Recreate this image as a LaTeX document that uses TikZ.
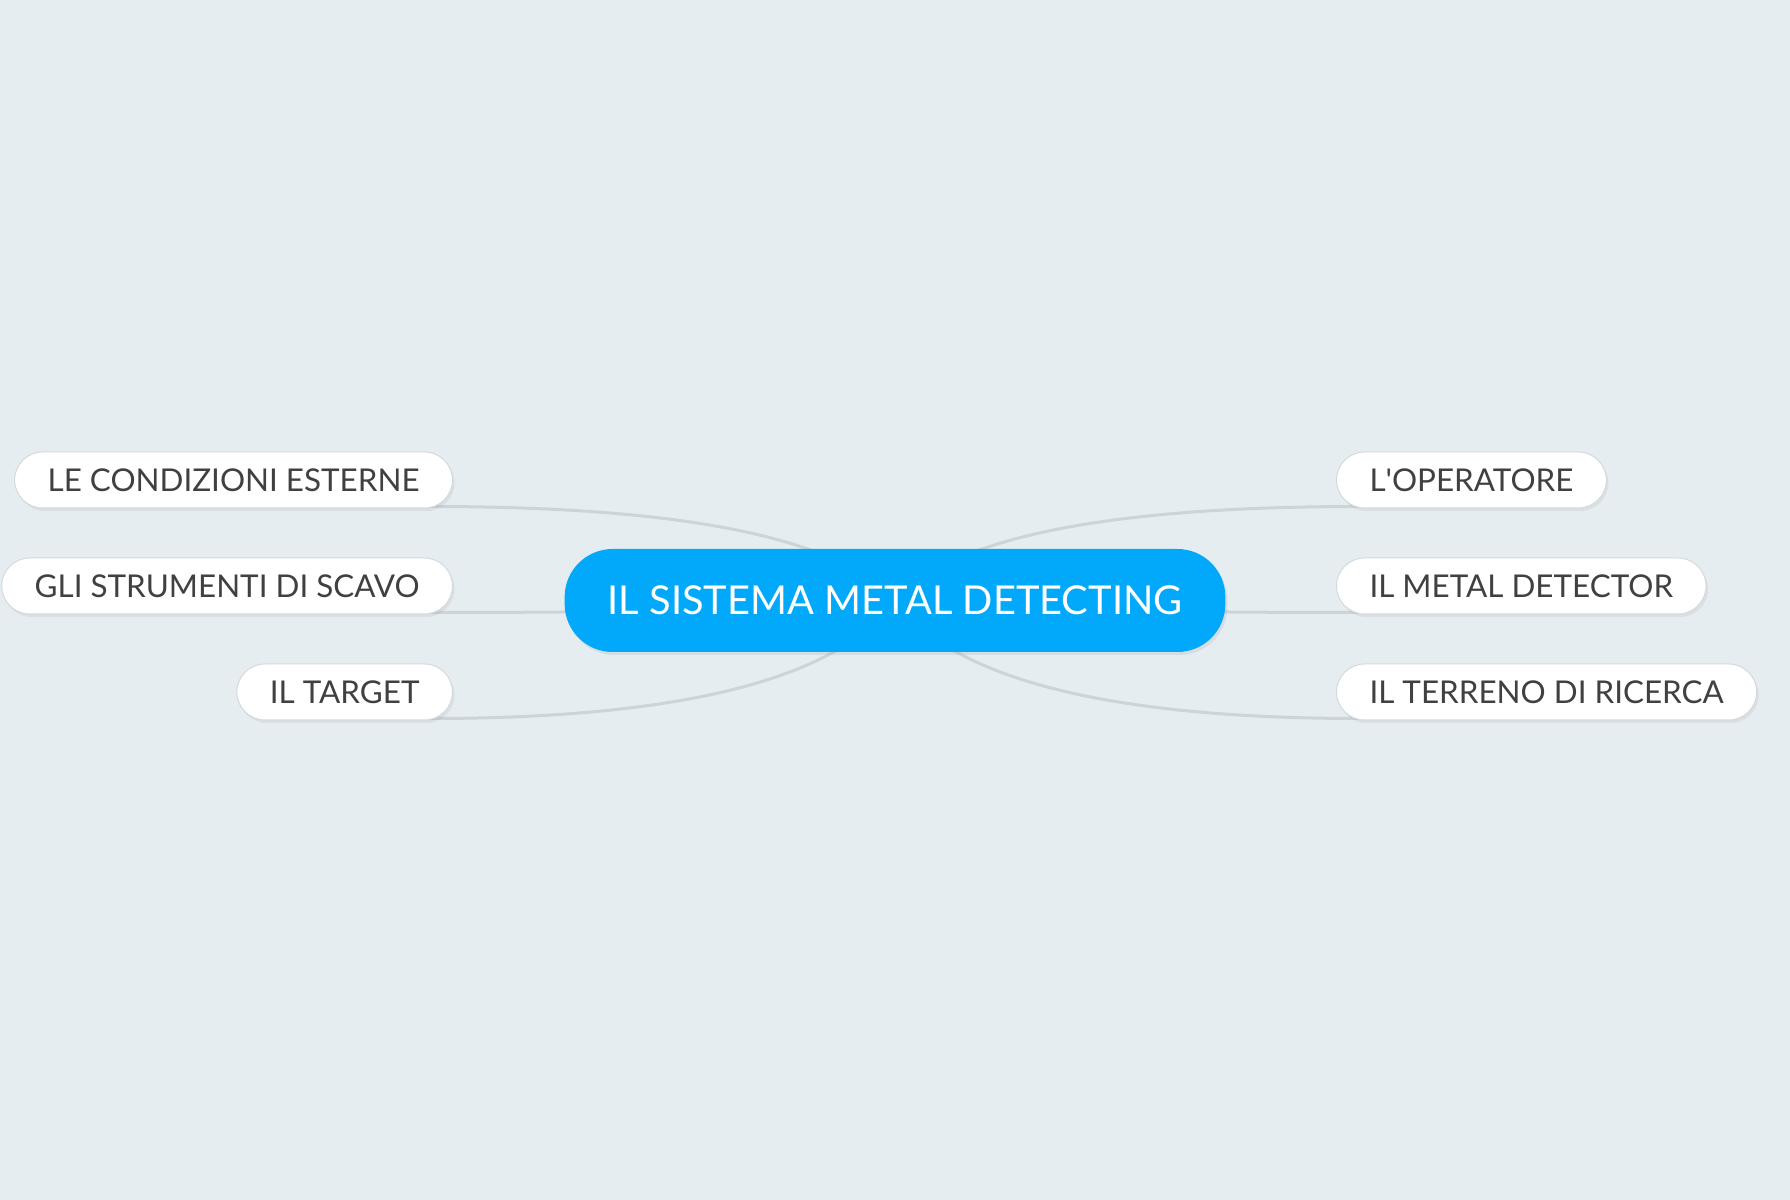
\documentclass[tikz,border=0pt]{standalone}
\usepackage{fontspec}
\setmainfont{Lato}
\usetikzlibrary{calc,shadows}
\definecolor{canvas}{HTML}{E6EDF1}
\definecolor{rootblue}{HTML}{02A9FA}
\definecolor{branchgray}{HTML}{CDD4D8}
\definecolor{boxline}{HTML}{D3D9DC}
\definecolor{labelgray}{HTML}{404040}
\pgfdeclarelayer{back}
\pgfdeclarelayer{edges}
\pgfsetlayers{back,edges,main}

\begin{document}
\begin{tikzpicture}[x=0.5bp, y=-0.5bp,
    topic/.style={rectangle, rounded corners=24bp, fill=rootblue, text=white,
        minimum height=51.5bp, inner xsep=21.5bp,
        font=\fontsize{19.9bp}{24bp}\selectfont,
        drop shadow={shadow xshift=1bp, shadow yshift=-1.5bp, opacity=0.15}},
    subtopic/.style={rectangle, rounded corners=14bp, draw=boxline, line width=0.5bp,
        fill=white, text=labelgray, minimum height=28bp, inner xsep=16.5bp,
        font=\fontsize{15.7bp}{19bp}\selectfont,
        drop shadow={shadow xshift=1bp, shadow yshift=-1.5bp, opacity=0.12}},
    branch/.style={draw=branchgray, line width=1.5bp}]

    \useasboundingbox (0,0) rectangle (1790,1200);
    \begin{pgfonlayer}{back}
        \fill[canvas] (0,0) rectangle (1790,1200);
    \end{pgfonlayer}

    \node[topic] (root) at (895,600.5) {IL SISTEMA METAL DETECTING};

    % left side
    \node[subtopic, anchor=east] (cond) at (453,480) {LE CONDIZIONI ESTERNE};
    \node[subtopic, anchor=east] (scavo) at (453,586) {GLI STRUMENTI DI SCAVO};
    \node[subtopic, anchor=east] (target) at (453,692) {IL TARGET};

    % right side
    \node[subtopic, anchor=west] (oper) at (1336,480) {L\textquotesingle OPERATORE};
    \node[subtopic, anchor=west] (detector) at (1336,586) {IL METAL DETECTOR};
    \node[subtopic, anchor=west] (terreno) at (1336,692) {IL TERRENO DI RICERCA};

    \begin{pgfonlayer}{edges}
        \draw[branch] (root.center) .. controls +(-57,-63) and +(253,0) .. ($(cond.south east)+(-23,-2)$);
        \draw[branch] (root.center) .. controls +(-57,7) and +(253,0) .. ($(scavo.south east)+(-23,-2)$);
        \draw[branch] (root.center) .. controls +(-57,78) and +(253,0) .. ($(target.south east)+(-23,-2)$);
        \draw[branch] (root.center) .. controls +(57,-63) and +(-253,0) .. ($(oper.south west)+(24,-2)$);
        \draw[branch] (root.center) .. controls +(57,7) and +(-253,0) .. ($(detector.south west)+(24,-2)$);
        \draw[branch] (root.center) .. controls +(57,78) and +(-253,0) .. ($(terreno.south west)+(24,-2)$);
    \end{pgfonlayer}
\end{tikzpicture}
\end{document}
